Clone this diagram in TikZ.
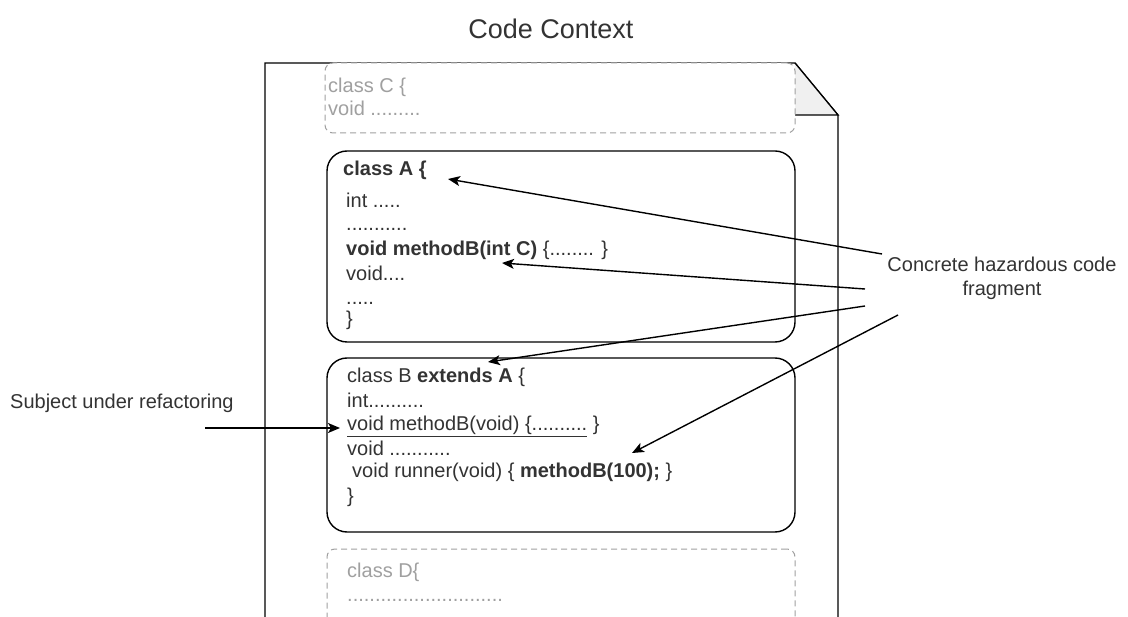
\documentclass[tikz,border=0pt]{standalone}
\usepackage{fontspec}
\setmainfont{Liberation Sans}
\usetikzlibrary{arrows.meta}
\definecolor{ink}{HTML}{333333}
\definecolor{ghost}{HTML}{A0A0A0}
\definecolor{foldgray}{HTML}{F0F0F0}
\tikzset{
  codebox/.style={draw, line width=1.4pt, rounded corners=20pt, fill=white, inner sep=0pt},
  ghostbox/.style={draw=ghost, dash pattern=on 6pt off 4pt, line width=1pt, rounded corners=8pt, fill=white, inner sep=0pt},
  codeline/.style={anchor=west, inner sep=0pt, text=ink, font=\fontsize{20pt}{24pt}\selectfont, text height=15pt, text depth=4pt},
  ghostline/.style={codeline, text=ghost},
  caption/.style={codeline, anchor=center, align=center},
  pointer/.style={-{Stealth[length=12pt,width=10pt,inset=3pt]}, line width=1.4pt},
}
\begin{document}
\begin{tikzpicture}[x=1pt,y=-1pt]
  \useasboundingbox (0,0) rectangle (1128,617);

  \node[caption, font=\fontsize{27pt}{32pt}\selectfont, text height=20pt, text depth=6pt] (title) at (551,32) {Code Context};

  % the page with its folded corner
  \draw[line width=1.3pt] (265,640) -- (265,63) -- (795,63) -- (838,115) -- (838,640);
  \fill[foldgray] (795,63) -- (838,115) -- (795,115) -- cycle;
  \draw[line width=1.3pt] (795,63) -- (838,115) -- (795,115);

  \node[ghostbox, minimum width=470pt, minimum height=70pt] (classC) at (560,98) {}; % class C
  \node[codebox, minimum width=468pt, minimum height=191pt] (classA) at (561,246.5) {}; % class A
  \node[codebox, minimum width=468pt, minimum height=174pt] (classB) at (561,445) {}; % class B
  \node[ghostbox, minimum width=468pt, minimum height=90pt] (classD) at (561,594) {}; % class D

  \node[ghostline] (c1) at (328,87) {class C \{};
  \node[ghostline] (c2) at (328,110) {void .........};

  \node[codeline] (a1) at (343,170) {\textbf{class A \{}};
  \node[codeline] (a2) at (346,202) {int .....};
  \node[codeline] (a3) at (346,225) {...........};
  \node[codeline] (a4) at (346,250) {\textbf{void methodB(int C)} \{........ \}};
  \node[codeline] (a5) at (346,275) {void....};
  \node[codeline] (a6) at (346,299) {.....};
  \node[codeline] (a7) at (346,320) {\}};

  \node[codeline] (b1) at (347,377) {class B \textbf{extends A} \{};
  \node[codeline] (b2) at (347,402) {int..........};
  \node[codeline] (b3) at (347,425) {\underline{void methodB(void) \{..........} \}};
  \node[codeline] (b4) at (347,450) {void ...........};
  \node[codeline] (b5) at (352,472) {void runner(void) \{ \textbf{methodB(100);} \}};
  \node[codeline] (b6) at (347,497) {\}};

  \node[ghostline] (d1) at (347,572) {class D\{};
  \node[ghostline] (d2) at (347,596) {............................};

  \node[codeline] (subject) at (10,403) {Subject under refactoring};
  \node[caption] (frag) at (1002,290) {Concrete hazardous code\\fragment};

  \coordinate (subjectTail) at (205,428);
  \coordinate (subjectTip) at (340,428);
  \coordinate (fragA) at (882,254);
  \coordinate (fragB) at (865,289);
  \coordinate (fragC) at (865,306);
  \coordinate (fragD) at (898,315);
  \coordinate (hitA) at (448,179);
  \coordinate (hitB) at (502,263);
  \coordinate (hitC) at (488,362);
  \coordinate (hitD) at (632,453);

  \draw[pointer] (subjectTail) -- (subjectTip);
  \draw[pointer] (fragA) -- (hitA);
  \draw[pointer] (fragB) -- (hitB);
  \draw[pointer] (fragC) -- (hitC);
  \draw[pointer] (fragD) -- (hitD);
\end{tikzpicture}
\end{document}
